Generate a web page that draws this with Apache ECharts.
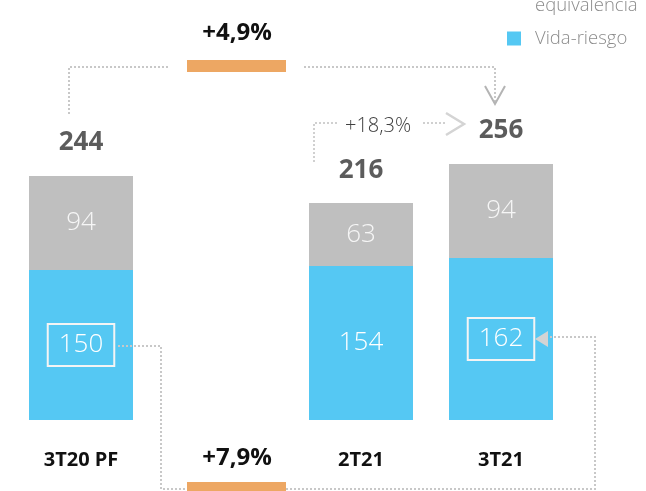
<!DOCTYPE html>
<html><head><meta charset="utf-8">
<script src="https://cdn.jsdelivr.net/npm/echarts@6/dist/echarts.min.js"></script>
<style>html,body{margin:0;padding:0;background:#fff}#c{width:646px;height:491px}</style>
</head><body><div id="c"></div>
<script>
const categories = ['3T20 PF', '', '2T21', '3T21'];
const vidaRiesgo = [150, null, 154, 162];
const equivalencia = [94, null, 63, 94];
const totals = [244, null, 216, 256];
const boxedIdx = [0, 3];
const changeYoYTotal = '+4,9%';
const changeQoQTotal = '+18,3%';
const changeYoYVida = '+7,9%';

const FONT = 'Open Sans';
const BLUE = '#55C8F3', GREY = '#BFBFBF', ORANGE = '#EDA763', DOT = '#c8c8c8';

const chart = echarts.init(document.getElementById('c'), null, {renderer: 'canvas'});
chart.setOption({
  animation: false,
  textStyle: {fontFamily: FONT},
  grid: {left: 11, right: 75, top: 70, bottom: 71},
  legend: {
    orient: 'vertical', left: 502, top: -9, itemGap: 14, itemWidth: 14, itemHeight: 14, icon: 'rect',
    textStyle: {color: '#8c8c8c', fontSize: 18.5, fontWeight: 300, fontFamily: FONT, padding: [0, 0, 0, 9]},
    data: [{name: 'equivalencia', itemStyle: {opacity: 0}}, 'Vida-riesgo']
  },
  xAxis: {
    type: 'category', data: categories,
    axisLine: {show: false}, axisTick: {show: false},
    axisLabel: {margin: 30, fontSize: 20, fontWeight: 'bold', color: '#111', fontFamily: FONT}
  },
  yAxis: {type: 'value', min: 0, max: 350, show: false, splitLine: {show: false}},
  series: [
    {
      name: 'Vida-riesgo', type: 'bar', stack: 't', barWidth: 104,
      itemStyle: {color: BLUE},
      label: {show: true, position: 'inside', color: '#fff', fontSize: 26, fontWeight: 300, fontFamily: FONT},
      data: vidaRiesgo.map((v, i) => boxedIdx.includes(i)
        ? {value: v, label: {borderColor: '#f4f4f4', borderWidth: 2, padding: [9, 11, 7, 11]}}
        : v)
    },
    {
      name: 'equivalencia', type: 'bar', stack: 't', barWidth: 104,
      itemStyle: {color: GREY},
      label: {show: true, position: 'inside', color: '#f6f6f6', fontSize: 26, fontWeight: 300, fontFamily: FONT},
      data: equivalencia
    },
    {
      name: 'Total', type: 'scatter', symbolSize: 1,
      itemStyle: {color: 'rgba(0,0,0,0)'},
      label: {show: true, position: 'top', distance: 20, color: '#333', fontSize: 26, fontWeight: 'bold', fontFamily: FONT},
      data: totals
    }
  ]
});

const P = (i, v) => chart.convertToPixel({xAxisIndex: 0, yAxisIndex: 0}, [i, v]);
const x0 = P(0, 0)[0], x1 = P(1, 0)[0], x2 = P(2, 0)[0], x3 = P(3, 0)[0];
const yBase = P(0, 0)[1];
const yv = v => P(0, v)[1];
const dotted = (pts, color) => ({type: 'polyline', silent: true, z: 20, shape: {points: pts},
  style: {stroke: color || DOT, lineWidth: 2, lineDash: [2, 2], fill: null}});
const yTop = 67;
const yBot = yBase + 69;
const yBlue0 = yv(vidaRiesgo[0] / 2);
const yBlue3 = yv(vidaRiesgo[3] / 2);
const yQ = yv(totals[3]) - 41;

chart.setOption({graphic: [
  // top: total YoY
  dotted([[x0 - 12, yv(totals[0]) - 62], [x0 - 12, yTop], [x1 - 52, yTop]]),
  {type: 'rect', z: 20, shape: {x: x1 - 34, y: yTop - 7, width: 99, height: 12}, style: {fill: ORANGE}},
  {type: 'text', z: 20, x: x1 + 16, y: 33, style: {text: changeYoYTotal, align: 'center', verticalAlign: 'middle',
    font: 'bold 24px "' + FONT + '"', fill: '#111'}},
  dotted([[x1 + 83, yTop], [x3 - 6, yTop], [x3 - 6, yTop + 36]]),
  {type: 'polyline', z: 20, shape: {points: [[x3 - 16, yTop + 19], [x3 - 6, yTop + 37], [x3 + 4, yTop + 19]]},
    style: {stroke: '#b4b4b4', lineWidth: 2, fill: null}},
  // QoQ
  dotted([[x2 - 47, yv(totals[2]) - 42], [x2 - 47, yQ], [x2 - 23, yQ]], '#d0d0d0'),
  {type: 'text', z: 20, x: x2 - 16, y: yQ + 3, style: {text: changeQoQTotal, align: 'left', verticalAlign: 'middle',
    font: '300 20px "' + FONT + '"', fill: '#404040'}},
  dotted([[x2 + 62, yQ], [x2 + 85, yQ]], '#d0d0d0'),
  {type: 'polyline', z: 20, shape: {points: [[x2 + 85, yQ - 10], [x2 + 103, yQ + 1], [x2 + 85, yQ + 12]]},
    style: {stroke: '#d4d4d4', lineWidth: 2.5, fill: null}},
  // bottom: vida YoY
  dotted([[x0 + 37, yBlue0 + 1], [x0 + 80, yBlue0 + 1], [x0 + 80, yBot], [x1 - 34, yBot]]),
  {type: 'rect', z: 20, shape: {x: x1 - 34, y: yBot - 7, width: 99, height: 14}, style: {fill: ORANGE}},
  {type: 'text', z: 20, x: x1 + 16, y: 458, style: {text: changeYoYVida, align: 'center', verticalAlign: 'middle',
    font: 'bold 24px "' + FONT + '"', fill: '#111'}},
  dotted([[x1 + 65, yBot], [x3 + 94, yBot], [x3 + 94, yBlue3 - 2], [x3 + 49, yBlue3 - 2]]),
  {type: 'polygon', z: 20, shape: {points: [[x3 + 34, yBlue3], [x3 + 47, yBlue3 - 8], [x3 + 47, yBlue3 + 8]]},
    style: {fill: '#d4d4d4'}}
]});
</script>
</body></html>
